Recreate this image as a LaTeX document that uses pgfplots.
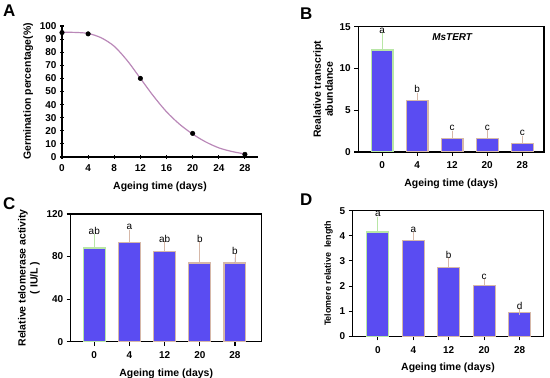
\documentclass[border=0pt]{standalone}
\usepackage{fontspec}
\setmainfont{Liberation Sans}
\usepackage{pgfplots}
\pgfplotsset{compat=1.18}
\definecolor{barfill}{HTML}{5A4CF2}
\definecolor{edgegreen}{HTML}{B8E6A6}
\definecolor{edgetan}{HTML}{D6B8A8}
\definecolor{curvecol}{HTML}{BA88B8}
\tikzset{lett/.style={font=\fontsize{10}{11}\selectfont, anchor=base}}
\pgfplotsset{
  common/.style={
    scale only axis,
    anchor=south west,
    axis line style={line width=1.1pt, black},
    every tick/.style={line width=1.1pt, black},
    tick align=outside,
    major tick length=4bp,
    tick pos=left,
    /pgf/number format/assume math mode=true,
    ticklabel style={font=\bfseries\fontsize{10}{11}\selectfont},
    xticklabel style={yshift=-2.5bp},
    label style={font=\bfseries\fontsize{10.5}{12}\selectfont},
    xlabel style={yshift=-3bp},
    xlabel={Ageing time (days)},
  },
  barax/.style={
    common,
    ybar, bar shift=0pt, bar width=0.62,
    xtick={0,1,2,3,4},
    xticklabels={0,4,12,20,28},
    ymin=0,
    ylabel style={align=center},
  },
  greenbar/.style={fill=barfill, draw=edgegreen, line width=1.2pt,
    error bars/.cd, y dir=plus, y explicit,
    error bar style={draw=edgegreen, line width=0.8pt},
    error mark options={draw=edgegreen, line width=0.8pt, mark size=3.5bp}},
  tanbar/.style={fill=barfill, draw=edgetan, line width=1.2pt,
    error bars/.cd, y dir=plus, y explicit,
    error bar style={draw=edgetan, line width=0.8pt},
    error mark options={draw=edgetan, line width=0.8pt, mark size=3.5bp}},
}
\begin{document}
\begin{tikzpicture}
% ---------- A ----------
\begin{axis}[common,
  at={(62bp,221bp)}, width=196bp, height=131bp,
  axis lines=left, axis line style={-},
  xmin=0, xmax=30, ymin=0, ymax=100,
  xtick={0,4,8,12,16,20,24,28},
  ytick={0,10,20,30,40,50,60,70,80,90,100},
  ylabel={Germination percentage(\%)},
  clip=false,
]
\addplot[curvecol, line width=1.2pt, smooth, no marks] coordinates {
 (0,95.2) (2,95.1) (4,94.3) (6,91) (8,84.5) (10,73.5) (12,60) (14,46.5)
 (16,34.5) (18,25) (20,17.5) (22,11.5) (24,7) (26,4.2) (28,2.3)};
\addplot[only marks, mark=*, mark size=2.3bp, black] coordinates {
 (0,95) (4,94) (12,60) (20,18) (28,2)};
\end{axis}
% ---------- B ----------
\begin{axis}[barax,
  at={(358.3bp,226bp)}, width=185.7bp, height=125.3bp,
  xmin=-0.68, xmax=4.62, ymax=15, ytick={0,5,10,15},
  ylabel={Realative transcript\\abundance},
]
\addplot[greenbar] table[y error=e] {
x y e
0 12.2 1.7
};
\addplot[tanbar] table[y error=e] {
x y e
1 6.2 0.4
2 1.65 0.4
3 1.65 0.55
4 1.0 0.55
};
\node[lett] at (axis cs:0,14.2) {a};
\node[lett] at (axis cs:1,7.1) {b};
\node[lett] at (axis cs:2,2.6) {c};
\node[lett] at (axis cs:3,2.6) {c};
\node[lett] at (axis cs:4,2.0) {c};
\node[font=\bfseries\itshape\fontsize{10}{11}\selectfont] at (axis cs:2,13.8) {MsTERT};
\end{axis}
% ---------- C ----------
\begin{axis}[barax,
  at={(70.7bp,36.3bp)}, width=191bp, height=127.7bp,
  xmin=-0.67, xmax=4.76, ymax=120, ytick={0,40,80,120},
  ylabel={Relative telomerase activity\\( IU/L )},
]
\addplot[greenbar] table[y error=e] {
x y e
0 88 10
};
\addplot[tanbar] table[y error=e] {
x y e
1 93 9
2 85 6
3 74 17
4 74 5
};
\node[lett] at (axis cs:0,100.5) {ab};
\node[lett] at (axis cs:1,105) {a};
\node[lett] at (axis cs:2,93.5) {ab};
\node[lett] at (axis cs:3,93) {b};
\node[lett] at (axis cs:4,82) {b};
\end{axis}
% ---------- D ----------
\begin{axis}[barax,
  at={(352.7bp,41.7bp)}, width=190.6bp, height=125.6bp,
  xmin=-0.71, xmax=4.67, ymax=5, ytick={0,1,2,3,4,5},
  ylabel={Telomere relative\ \ length},
  ylabel style={font=\bfseries\fontsize{9}{10}\selectfont},
]
\addplot[greenbar] table[y error=e] {
x y e
0 4.15 0.45
};
\addplot[tanbar] table[y error=e] {
x y e
1 3.8 0.2
2 2.75 0.27
3 2.03 0.12
4 0.95 0.02
};
\node[lett] at (axis cs:0,4.75) {a};
\node[lett] at (axis cs:1,4.12) {a};
\node[lett] at (axis cs:2,3.1) {b};
\node[lett] at (axis cs:3,2.25) {c};
\node[lett] at (axis cs:4,1.08) {d};
\end{axis}
% panel letters
\node[anchor=north west, inner sep=0, font=\bfseries\fontsize{17}{17}\selectfont] at (3bp,373bp) {A};
\node[anchor=north west, inner sep=0, font=\bfseries\fontsize{17}{17}\selectfont] at (300bp,370bp) {B};
\node[anchor=north west, inner sep=0, font=\bfseries\fontsize{17}{17}\selectfont] at (3bp,181bp) {C};
\node[anchor=north west, inner sep=0, font=\bfseries\fontsize{17}{17}\selectfont] at (300bp,184bp) {D};
\pgfresetboundingbox
\path (0,0) rectangle (550bp,378bp);
\end{tikzpicture}
\end{document}
